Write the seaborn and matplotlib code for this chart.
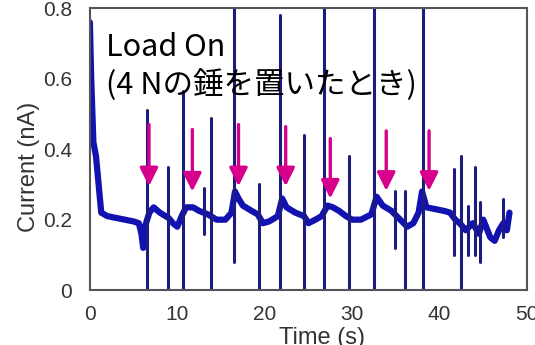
import matplotlib
matplotlib.use("Agg")
import matplotlib.pyplot as plt
import pandas as pd
import seaborn as sns

# noisy current band (centre of the band)
base_t = [0.0, 0.15, 0.4, 0.7, 1.0, 1.3, 2.0, 3.0, 4.0, 5.0, 5.6, 5.9, 6.1, 6.3,
          6.8, 7.3, 8.0, 9.0, 9.5, 10.0, 10.5, 11.0, 11.8, 12.5, 13.5, 14.5,
          15.5, 16.2, 16.6, 17.0, 17.5, 18.5, 19.2, 19.8, 20.5, 21.5, 22.0,
          22.5, 23.5, 24.5, 25.0, 25.8, 26.5, 27.2, 27.8, 28.5, 29.3, 30.0,
          31.0, 32.2, 32.8, 33.5, 34.5, 35.5, 36.3, 37.0, 37.6, 38.0, 38.5,
          39.5, 40.5, 41.2, 41.8, 42.3, 43.0, 43.8, 44.5, 45.0, 45.8, 46.3,
          46.8, 47.3, 47.7, 48.0]
base_i = [0.76, 0.60, 0.42, 0.38, 0.30, 0.22, 0.21, 0.205, 0.20, 0.195, 0.19,
          0.16, 0.12, 0.18, 0.22, 0.235, 0.22, 0.205, 0.19, 0.18, 0.21, 0.235,
          0.235, 0.225, 0.215, 0.20, 0.20, 0.22, 0.28, 0.26, 0.24, 0.225, 0.215,
          0.19, 0.195, 0.21, 0.26, 0.235, 0.22, 0.21, 0.19, 0.20, 0.21, 0.24,
          0.235, 0.225, 0.21, 0.20, 0.20, 0.215, 0.265, 0.24, 0.225, 0.20,
          0.18, 0.19, 0.22, 0.28, 0.235, 0.23, 0.225, 0.22, 0.20, 0.19, 0.17,
          0.19, 0.16, 0.20, 0.15, 0.14, 0.17, 0.19, 0.17, 0.22]

# vertical spikes: time, top, bottom
spike_t = [6.5, 8.9, 10.7, 13.0, 13.9, 16.5, 19.4, 21.8, 24.5, 26.8, 29.6,
           32.5, 34.9, 36.1, 38.1, 41.6, 42.5, 43.2, 44.0, 44.6, 47.3]
spike_hi = [0.51, 0.35, 0.565, 0.29, 0.49, 0.85, 0.30, 0.78, 0.44, 0.85, 0.38,
            0.85, 0.28, 0.28, 0.85, 0.345, 0.38, 0.24, 0.35, 0.25, 0.26]
spike_lo = [0.0, 0.0, 0.0, 0.16, 0.0, 0.08, 0.0, 0.0, 0.0, 0.0, 0.0,
            0.0, 0.12, 0.0, 0.0, 0.10, 0.0, 0.10, 0.10, 0.08, 0.15]

# "load on" arrows
arrow_t = [6.76, 11.72, 17.0, 22.4, 27.5, 33.9, 38.8]
arrow_top = [0.47, 0.456, 0.47, 0.464, 0.43, 0.452, 0.452]
arrow_tip = [0.295, 0.28, 0.295, 0.295, 0.26, 0.282, 0.282]

x_ticks = [0, 10, 20, 30, 40, 50]
y_ticks = [0, 0.2, 0.4, 0.6, 0.8]
y_tick_labels = ["0", "0.2", "0.4", "0.6", "0.8"]

sns.set_style("white")
plt.rcParams["font.family"] = ["Liberation Sans", "DejaVu Sans"]

fig = plt.figure(figsize=(5.35, 3.45), dpi=100)
ax = fig.add_axes([0.168, 0.159, 0.817, 0.817])

sns.lineplot(x=base_t, y=base_i, color="#1212b0", lw=4.5, sort=False,
             estimator=None, ax=ax)

rows = []
for k, (t, hi, lo) in enumerate(zip(spike_t, spike_hi, spike_lo)):
    rows.append({"t": t, "i": lo, "id": k})
    rows.append({"t": t, "i": hi, "id": k})
spikes = pd.DataFrame(rows)
sns.lineplot(data=spikes, x="t", y="i", units="id", estimator=None,
             sort=False, color="#1c1c80", lw=2.2, ax=ax)

for t, top, tip in zip(arrow_t, arrow_top, arrow_tip):
    ax.annotate("", xy=(t, tip), xytext=(t, top),
                arrowprops=dict(arrowstyle="-|>,head_length=1.1,head_width=0.55",
                                color="#d6008c", lw=2.4, shrinkA=0, shrinkB=0,
                                mutation_scale=10))

ax.set_xlim(0, 50)
ax.set_ylim(0, 0.8)
ax.set_xticks(x_ticks)
ax.set_yticks(y_ticks)
ax.set_yticklabels(y_tick_labels)
ax.tick_params(direction="in", length=4, width=1, color="#666666",
               labelsize=15, labelcolor="#333333", pad=13)
ax.tick_params(axis="x", pad=11)
for s in ax.spines.values():
    s.set_color("#555555")
    s.set_linewidth(1.5)

ax.set_xlabel("Time (s)", fontsize=17, color="#333333")
ax.set_ylabel("Current (nA)", fontsize=17, color="#333333")
ax.xaxis.set_label_coords(0.53, -0.132)
ax.yaxis.set_label_coords(-0.115, 0.436)

cjk = ["Noto Sans CJK JP", "DejaVu Sans"]
ax.text(0.037, 0.83, "Load On", transform=ax.transAxes, fontsize=22,
        family=cjk, va="baseline", ha="left", color="black")
ax.text(0.037, 0.695, "(4 Nの錘を置いたとき)", transform=ax.transAxes, fontsize=22,
        family=cjk, va="baseline", ha="left", color="black")

fig.savefig("out.png", dpi=100)
